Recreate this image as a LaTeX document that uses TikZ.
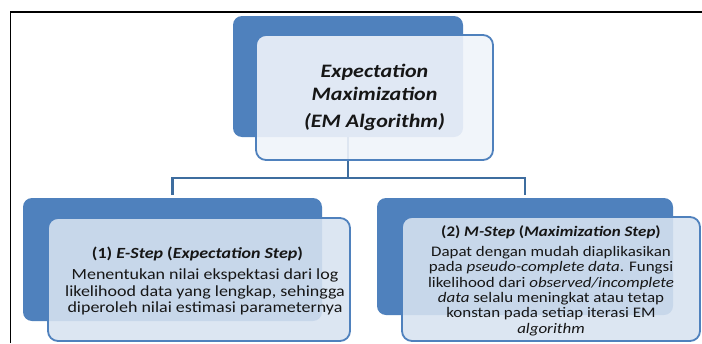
\documentclass[tikz,border=0pt]{standalone}
\usepackage{fontspec}
\setmainfont{Carlito}[FakeStretch=1.16]
\definecolor{emdark}{HTML}{4F81BD}
\definecolor{emline}{HTML}{4F81BD}
\definecolor{emconn}{HTML}{3E6D9F}
\definecolor{emtopfill}{HTML}{F0F4FA}
\definecolor{embotfill}{HTML}{D8E3F1}
\definecolor{emtext}{HTML}{161616}
\begin{document}
\begin{tikzpicture}[x=1pt,y=-1pt,
  darkbox/.style={fill=emdark, draw=none, rounded corners=9pt, inner sep=0pt},
  toplightbox/.style={fill=emtopfill, fill opacity=0.9, draw=emline, line width=1.8pt, rounded corners=10pt, inner sep=0pt},
  botlightbox/.style={fill=embotfill, fill opacity=0.88, draw=emline, line width=1.8pt, rounded corners=10pt, inner sep=0pt},
  conn/.style={draw=emconn, line width=2.1pt},
  txt/.style={text=emtext, inner sep=0pt, align=center}]
\useasboundingbox (0,0) rectangle (702,343);
\fill[white] (0,0) rectangle (702,343);
% frame
\draw[line width=1.5pt, black] (10.5,343) -- (10.5,12) -- (702,12);
% dark boxes
\node[darkbox, minimum width=230pt, minimum height=121pt] (topdark) at (348,76.5) {};
\node[darkbox, minimum width=299pt, minimum height=123pt] (leftdark) at (172.5,259.5) {};
\node[darkbox, minimum width=296pt, minimum height=117pt] (rightdark) at (525,256.5) {};
% connectors
\coordinate (hub) at (348,178);
\draw[conn] (topdark.south) -- (hub);
\draw[conn, shorten >=3pt] (hub) -| (leftdark.north);
\draw[conn, shorten >=3pt] (hub) -| (rightdark.north);
% light boxes
\node[toplightbox, minimum width=237pt, minimum height=125pt] (toplight) at (374.5,97.5) {};
\node[botlightbox, minimum width=302pt, minimum height=123pt] (leftlight) at (199,279.5) {};
\node[botlightbox, minimum width=298pt, minimum height=124pt] (rightlight) at (551,279) {};
% texts
\node[txt, font=\fontsize{19}{23}\selectfont\bfseries\itshape] (toptext) at (374.5,97.5)
  {Expectation\\Maximization\\[4pt](EM Algorithm)};
\node[txt, font=\fontsize{15.5}{16}\selectfont\bfseries] (ltitle) at (197.5,254)
  {(1) \textit{E-Step} (\textit{Expectation Step})};
\node[txt, font=\fontsize{15.5}{16.5}\selectfont] (lbody) at (205,292)
  {Menentukan nilai ekspektasi dari log\\likelihood data yang lengkap, sehingga\\diperoleh nilai estimasi parameternya};
\node[txt, font=\fontsize{14.6}{15.4}\selectfont\bfseries] (rtitle) at (551,232)
  {(2) \textit{M-Step} (\textit{Maximization Step})};
\node[txt, font=\fontsize{14.6}{15.4}\selectfont] (rbody) at (551,291)
  {Dapat dengan mudah diaplikasikan\\pada \textit{pseudo-complete data}. Fungsi\\likelihood dari \textit{observed/incomplete}\\\textit{data} selalu meningkat atau tetap\\konstan pada setiap iterasi EM\\\textit{algorithm}};
\end{tikzpicture}
\end{document}
